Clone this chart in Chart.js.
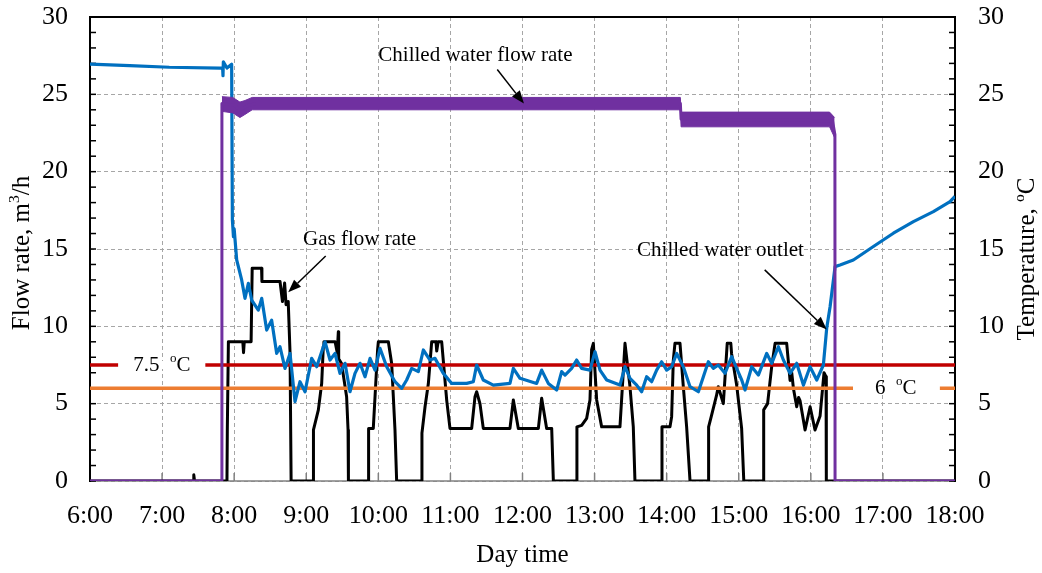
<!DOCTYPE html>
<html><head><meta charset="utf-8">
<script src="https://cdn.jsdelivr.net/npm/chart.js@4/dist/chart.umd.min.js"></script>
<style>html,body{margin:0;padding:0;background:#fff}</style>
</head><body>
<canvas id="c" width="1042" height="573"></canvas>
<script>
// ---------- DATA ----------
const timeTicks = [6,7,8,9,10,11,12,13,14,15,16,17,18];
const timeTickLabels = ['6:00','7:00','8:00','9:00','10:00','11:00','12:00','13:00','14:00','15:00','16:00','17:00','18:00'];
const valueTicks = [0,5,10,15,20,25,30];

// Chilled water flow rate (m3/h) – centre trace
const flowTime = [6, 7.827, 7.83, 8.0, 8.08, 8.2, 8.3, 14.19, 14.2, 16.3, 16.334, 16.336, 18];
const flowRate = [0, 0, 24.4, 24.3, 24.0, 24.3, 24.4, 24.4, 23.4, 23.3, 22.4, 0, 0];
// Chilled water flow rate – fluctuation envelope
const flowBandTime = [7.83, 7.98, 8.08, 8.15, 8.25, 14.19, 14.2, 16.26, 16.33];
const flowBandHigh = [24.85, 24.8, 24.5, 24.6, 24.8, 24.8, 23.85, 23.85, 23.5];
const flowBandLow  = [23.9, 23.8, 23.5, 23.7, 24.0, 24.0, 22.9, 22.9, 22.2];

// Gas flow rate (m3/h)
const gasTime = [6, 7.43, 7.44, 7.45, 7.90, 7.905, 7.92, 8.12, 8.13, 8.14, 8.235, 8.25, 8.38, 8.385, 8.636, 8.67, 8.70, 8.72, 8.75, 8.775, 8.79,
  9.098, 9.10, 9.168, 9.214, 9.237, 9.245, 9.40, 9.43, 9.445, 9.45, 9.49, 9.56, 9.58, 9.585,
  9.861, 9.865, 9.93, 9.99, 10.0, 10.139, 10.185, 10.231, 10.254,
  10.60, 10.605, 10.648, 10.694, 10.74, 10.80, 10.81, 10.83, 10.879, 10.949, 10.994,
  11.295, 11.341, 11.364, 11.41, 11.456, 11.826, 11.873, 11.942, 12.22, 12.266, 12.335, 12.405, 12.428,
  12.751, 12.755, 12.821, 12.89, 12.936, 12.959, 12.983, 13.029, 13.098, 13.352, 13.422, 13.491, 13.537, 13.56,
  13.93, 13.935, 14.046, 14.069, 14.092, 14.115, 14.185, 14.231, 14.277, 14.324,
  14.578, 14.582, 14.62, 14.69, 14.716, 14.786, 14.80, 14.84, 14.89, 14.90, 14.971, 15.04, 15.07,
  15.342, 15.346, 15.40, 15.457, 15.504, 15.665, 15.712, 15.735, 15.758, 15.804, 15.83, 15.85, 15.92, 15.99, 16.058, 16.128, 16.183, 16.211, 16.215, 18];
const gasFlow = [0, 0, 0.4, 0, 0, 3.3, 9.0, 9.0, 8.3, 9.0, 9.0, 13.75, 13.75, 12.9, 12.9, 11.6, 12.8, 11.4, 11.6, 8.3, 0,
  0, 3.3, 4.6, 6.3, 8.7, 9.0, 9.0, 8.3, 9.65, 7.9, 7.6, 5.45, 3.3, 0,
  0, 3.4, 3.4, 8.5, 9.0, 9.0, 7.6, 3.3, 0,
  0, 3.1, 4.8, 6.3, 9.0, 9.0, 8.4, 9.0, 9.0, 5.2, 3.4,
  3.4, 5.45, 5.77, 5.0, 3.4, 3.4, 5.24, 3.4, 3.4, 5.35, 3.4, 3.4, 0,
  0, 3.5, 3.6, 4.05, 5.24, 8.5, 8.9, 5.24, 3.5, 3.5, 8.9, 6.1, 3.5, 0,
  0, 3.5, 3.5, 4.16, 7.8, 8.9, 8.9, 6.1, 3.5, 0,
  0, 3.5, 4.2, 5.5, 6.1, 5.0, 6.0, 8.9, 8.9, 8.25, 6.2, 3.4, 0,
  0, 4.6, 5.0, 7.4, 8.9, 8.9, 6.5, 7.0, 6.0, 4.8, 5.4, 5.2, 3.3, 4.8, 3.3, 4.2, 7.0, 6.75, 0, 0];

// Chilled water outlet temperature (°C)
const tempTime = [6, 6.55, 7.1, 7.8, 7.84, 7.845, 7.85, 7.9, 7.965, 7.975, 7.99, 8.0, 8.035, 8.104, 8.15, 8.197, 8.243, 8.335, 8.382, 8.451, 8.52, 8.59, 8.636, 8.705, 8.775, 8.844, 8.913, 8.983,
  9.075, 9.145, 9.26, 9.33, 9.399, 9.468, 9.538, 9.607, 9.676, 9.746, 9.815, 9.885, 9.954, 10.023, 10.116, 10.231, 10.324, 10.393, 10.463, 10.555, 10.624, 10.717, 10.786, 10.902,
  11.018, 11.225, 11.318, 11.364, 11.456, 11.595, 11.826, 11.873, 11.965, 12.196, 12.266, 12.358, 12.474, 12.543, 12.59, 12.682, 12.751, 12.821, 12.936, 13.006, 13.075, 13.168,
  13.352, 13.422, 13.491, 13.584, 13.653, 13.722, 13.792, 13.861, 13.93, 14.0, 14.069, 14.139, 14.231, 14.324, 14.44, 14.509, 14.578, 14.647, 14.716, 14.809, 14.902, 14.971, 15.041,
  15.087, 15.18, 15.272, 15.388, 15.457, 15.55, 15.619, 15.712, 15.804, 15.897, 15.989, 16.082, 16.174, 16.22, 16.267, 16.336, 16.405, 16.59, 16.868, 17.145, 17.423, 17.7, 17.931, 18];
const tempOut = [26.95, 26.85, 26.75, 26.7, 26.7, 26.2, 27.1, 26.7, 26.95, 16.9, 15.8, 16.3, 14.29, 13.0, 11.81, 12.78, 11.7, 11.05, 11.81, 9.76, 10.4, 8.25, 8.68, 7.28, 8.25, 5.13, 6.42, 5.77,
  7.93, 7.39, 9.0, 7.82, 8.25, 6.96, 7.61, 5.77, 6.96, 7.61, 6.74, 7.93, 7.17, 8.58, 7.39, 6.42, 5.99, 6.53, 7.28, 7.07, 8.47, 7.82, 7.93, 6.96,
  6.31, 6.31, 6.42, 7.5, 6.53, 6.2, 6.31, 7.28, 6.64, 6.31, 7.17, 6.31, 5.88, 7.07, 6.85, 7.28, 7.82, 7.28, 7.17, 8.36, 7.17, 6.53,
  6.2, 7.39, 6.64, 6.2, 5.77, 6.74, 6.42, 7.17, 7.71, 7.17, 7.39, 8.25, 7.39, 6.1, 5.77, 6.74, 7.71, 7.28, 7.5, 6.96, 8.04, 7.28, 6.53,
  5.88, 7.39, 6.85, 8.25, 7.61, 8.68, 7.82, 6.96, 7.61, 6.2, 7.39, 6.53, 7.5, 9.87, 11.27, 13.86, 13.97, 14.29, 15.16, 16.02, 16.77, 17.42, 18.06, 18.4];

// Reference temperature limits (°C)
const limitHigh = 7.5;
const limitLow = 6;
const limitRange = [6, 18];

// ---------- STYLE ----------
const SERIF = "'Liberation Serif', 'Times New Roman', serif";
const C_BLUE = '#0070C0', C_PURPLE = '#7030A0', C_RED = '#C00000', C_ORANGE = '#ED7D31', C_GRID = '#a6a6a6';

const pts = (xs, ys) => xs.map((x, i) => ({x, y: ys[i]}));

function drawParts(ctx, parts, x, y, size) {
  let cx = x;
  for (const p of parts) {
    const fs = p.sup ? size * 0.62 : size;
    ctx.font = fs + 'px ' + SERIF;
    ctx.fillText(p.t, cx, p.sup ? y - size * 0.3 : y);
    cx += ctx.measureText(p.t).width;
  }
  return cx - x;
}
function partsWidth(ctx, parts, size) {
  let w = 0;
  for (const p of parts) { ctx.font = (p.sup ? size * 0.62 : size) + 'px ' + SERIF; w += ctx.measureText(p.t).width; }
  return w;
}
function arrow(ctx, x1, y1, x2, y2) {
  const ang = Math.atan2(y2 - y1, x2 - x1), L = 13, W = 5;
  const bx = x2 - L * Math.cos(ang), by = y2 - L * Math.sin(ang);
  ctx.beginPath(); ctx.moveTo(x1, y1); ctx.lineTo(bx, by); ctx.stroke();
  ctx.beginPath(); ctx.moveTo(x2, y2);
  ctx.lineTo(bx + W * Math.sin(ang), by - W * Math.cos(ang));
  ctx.lineTo(bx - W * Math.sin(ang), by + W * Math.cos(ang));
  ctx.closePath(); ctx.fill();
}

const framePlugin = {
  id: 'frame',
  beforeDatasetsDraw(chart) {
    const {ctx, chartArea: a, scales: {x, y}} = chart;
    const ln = (x1, y1, x2, y2) => { ctx.beginPath(); ctx.moveTo(x1, y1); ctx.lineTo(x2, y2); ctx.stroke(); };
    ctx.save();
    ctx.strokeStyle = '#808080'; ctx.lineWidth = 1.5;
    ln(a.left, a.bottom, a.right, a.bottom);
    for (const t of timeTicks) { const px = x.getPixelForValue(t); ln(px, a.bottom, px, a.bottom - 8); }
    ctx.strokeStyle = '#000'; ctx.lineWidth = 2;
    ln(a.left - 1, a.top, a.right + 1, a.top);
    ln(a.left, a.top, a.left, a.bottom + 1);
    ln(a.right, a.top, a.right, a.bottom + 1);
    ctx.lineWidth = 1.5;
    for (let v = 0; v <= 30; v++) {
      const py = y.getPixelForValue(v);
      ln(a.left, py, a.left + 6, py);
      ln(a.right - 6, py, a.right, py);
    }
    ctx.restore();
  }
};

const notePlugin = {
  id: 'notes',
  afterDatasetsDraw(chart) {
    const {ctx, chartArea: a, scales: {x, y}} = chart;
    const X = v => x.getPixelForValue(v), Y = v => y.getPixelForValue(v);
    ctx.save();
    ctx.textBaseline = 'middle'; ctx.textAlign = 'left';
    ctx.fillStyle = '#fff';
    ctx.fillRect(X(6.39), Y(limitHigh) - 4, X(7.6) - X(6.39), 8);
    ctx.fillRect(X(16.585), Y(limitLow) - 4, X(17.79) - X(16.585), 8);
    ctx.fillStyle = '#000';
    drawParts(ctx, [{t: '7.5  '}, {t: 'o', sup: true}, {t: 'C'}], X(6.6), Y(limitHigh), 21);
    drawParts(ctx, [{t: '6  '}, {t: 'o', sup: true}, {t: 'C'}], X(16.89), Y(limitLow), 21);
    ctx.font = '21px ' + SERIF;
    ctx.fillText('Chilled water flow rate', X(10.0), Y(27.5));
    ctx.fillText('Gas flow rate', X(8.955), Y(15.6));
    ctx.fillText('Chilled water outlet', X(13.59), Y(14.9));
    ctx.strokeStyle = '#000'; ctx.lineWidth = 1.5;
    arrow(ctx, X(11.65), Y(26.6), X(12.02), Y(24.4));
    arrow(ctx, X(9.27), Y(14.55), X(8.75), Y(12.2));
    arrow(ctx, X(15.36), Y(13.65), X(16.22), Y(9.8));
    const left = [{t: 'Flow rate, m'}, {t: '3', sup: true}, {t: '/h'}];
    const right = [{t: 'Temperature, '}, {t: 'o', sup: true}, {t: 'C'}];
    const cy = (a.top + a.bottom) / 2 + 4;
    ctx.save(); ctx.translate(22, cy); ctx.rotate(-Math.PI / 2);
    drawParts(ctx, left, -partsWidth(ctx, left, 25) / 2, 0, 25); ctx.restore();
    ctx.save(); ctx.translate(1027, cy + 6); ctx.rotate(-Math.PI / 2);
    drawParts(ctx, right, -partsWidth(ctx, right, 25) / 2, 0, 25); ctx.restore();
    ctx.font = '25px ' + SERIF; ctx.textAlign = 'center';
    ctx.fillText('Day time', (a.left + a.right) / 2, 555);
    ctx.restore();
  }
};

const tickFont = {family: SERIF, size: 26};
const noPad = s => { s.paddingTop = 0; s.paddingBottom = 0; s.paddingLeft = 0; s.paddingRight = 0; };

new Chart(document.getElementById('c'), {
  type: 'line',
  data: {
    datasets: [
      {label: 'Chilled water flow rate', data: pts(flowTime, flowRate), borderColor: C_PURPLE, borderWidth: 3, order: 0},
      {label: 'flow high', data: pts(flowBandTime, flowBandHigh), borderColor: C_PURPLE, borderWidth: 1, fill: false, order: 1},
      {label: 'flow low', data: pts(flowBandTime, flowBandLow), borderColor: C_PURPLE, borderWidth: 1, fill: '-1', backgroundColor: C_PURPLE, order: 1},
      {label: 'Chilled water outlet', data: pts(tempTime, tempOut), borderColor: C_BLUE, borderWidth: 3.2, order: 2},
      {label: '7.5 C', data: pts(limitRange, [limitHigh, limitHigh]), borderColor: C_RED, borderWidth: 3.5, order: 3},
      {label: '6 C', data: pts(limitRange, [limitLow, limitLow]), borderColor: C_ORANGE, borderWidth: 3.5, order: 3},
      {label: 'Gas flow rate', data: pts(gasTime, gasFlow), borderColor: '#000', borderWidth: 3, order: 4}
    ]
  },
  options: {
    responsive: false, animation: false, devicePixelRatio: 1,
    elements: {point: {radius: 0}, line: {tension: 0, borderJoinStyle: 'round'}},
    layout: {padding: {top: 17, left: 0, right: 0, bottom: 0}},
    plugins: {legend: {display: false}, tooltip: {enabled: false}},
    scales: {
      x: {
        type: 'linear', min: 6, max: 18,
        afterBuildTicks: s => { s.ticks = timeTicks.map(v => ({value: v})); },
        afterFit: s => { s.height = 92; noPad(s); },
        ticks: {font: tickFont, color: '#000', padding: 20, maxRotation: 0, autoSkip: false,
          callback: v => timeTickLabels[timeTicks.indexOf(v)]},
        grid: {color: C_GRID, lineWidth: 1, drawTicks: false},
        border: {display: false, dash: [4, 3]}
      },
      y: {
        position: 'left', min: 0, max: 30,
        afterBuildTicks: s => { s.ticks = valueTicks.map(v => ({value: v})); },
        afterFit: s => { s.width = 90; noPad(s); },
        ticks: {font: tickFont, color: '#000', padding: 22},
        grid: {color: C_GRID, lineWidth: 1, drawTicks: false},
        border: {display: false, dash: [4, 3]}
      },
      y2: {
        position: 'right', min: 0, max: 30,
        afterBuildTicks: s => { s.ticks = valueTicks.map(v => ({value: v})); },
        afterFit: s => { s.width = 87; noPad(s); },
        ticks: {font: tickFont, color: '#000', padding: 23},
        grid: {display: false, drawTicks: false},
        border: {display: false}
      }
    }
  },
  plugins: [framePlugin, notePlugin]
});
</script>
</body></html>
